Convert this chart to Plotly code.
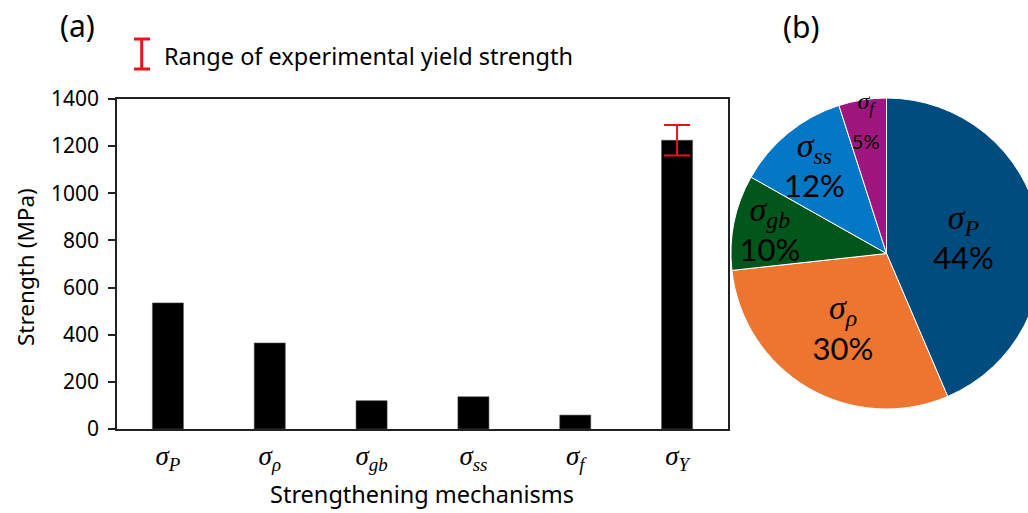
import plotly.graph_objects as go

# Strengthening contributions (MPa)
mechanisms = ["P", "ρ", "gb", "ss", "f", "Y"]
strength_mpa = [535, 365, 120, 137, 59, 1225]

# Experimental yield strength range (MPa) around the total σ_Y
yield_low = 1160
yield_high = 1290

# Share of each mechanism in the total (%)
pie_mechanisms = ["P", "ρ", "gb", "ss", "f"]
pie_share = [44, 30, 10, 12, 5]
pie_colors = ["#014C7E", "#ED7530", "#01561B", "#0478C6", "#A0167F"]
small_label = ["f"]

y_ticks = [0, 200, 400, 600, 800, 1000, 1200, 1400]

W, H = 1042, 513
SANS = "Noto Sans"
SERIF = "Liberation Serif"
AXIS = "#222222"


def px_x(p):
    return p / W


def px_y(p):
    return 1 - p / H


def sigma(sub):
    return f"<i>σ<sub>{sub}</sub></i>"


cats = [sigma(m) for m in mechanisms]

fig = go.Figure()

fig.add_trace(go.Bar(
    x=cats, y=strength_mpa,
    marker=dict(color="black", line=dict(color="#555555", width=0.6)),
    xaxis="x", yaxis="y", showlegend=False, hoverinfo="x+y",
))

# range of the measured yield strength on the σ_Y bar
y_idx = mechanisms.index("Y")
y_val = strength_mpa[y_idx]
fig.add_trace(go.Scatter(
    x=[cats[y_idx]], y=[y_val], mode="markers",
    marker=dict(size=1, opacity=0),
    error_y=dict(type="data", symmetric=False,
                 array=[yield_high - y_val], arrayminus=[y_val - yield_low],
                 color="#E8141B", thickness=2, width=13),
    xaxis="x", yaxis="y", showlegend=False, hoverinfo="skip",
))


def pie_text(m, v):
    if m in small_label:
        return (f"<span style='font-family:{SERIF};font-size:24px'>{sigma(m)}</span><br>"
                f"<span style='font-size:20px'>{v}%</span>")
    return f"<span style='font-family:{SERIF};font-size:34px'>{sigma(m)}</span><br>{v}%"


fig.add_trace(go.Pie(
    labels=[sigma(m) for m in pie_mechanisms],
    values=pie_share,
    text=[pie_text(m, v) for m, v in zip(pie_mechanisms, pie_share)],
    texttemplate="%{text}",
    textposition="inside",
    insidetextorientation="horizontal",
    textfont=dict(family="Lato", size=31, color="black"),
    marker=dict(colors=pie_colors, line=dict(color="white", width=1)),
    sort=False, direction="clockwise", rotation=0,
    domain=dict(x=[px_x(731), 1.0], y=[px_y(409), px_y(98)]),
    showlegend=False, hoverinfo="label+value",
))

fig.update_layout(
    width=W, height=H,
    margin=dict(l=0, r=0, t=0, b=0, autoexpand=False),
    uniformtext=dict(mode="show", minsize=31),
    paper_bgcolor="white", plot_bgcolor="white",
    font=dict(family=SANS, color="black", size=20),
    bargap=0.695,
    xaxis=dict(
        domain=[px_x(117), px_x(728)], automargin=False,
        showline=True, mirror=True, linecolor=AXIS, linewidth=1.5,
        ticks="", showgrid=False, zeroline=False,
        tickfont=dict(family=SERIF, size=27, color="black"),
        ticklabelstandoff=2,
    ),
    yaxis=dict(
        domain=[px_y(429), px_y(99)], automargin=False,
        range=[0, 1400], tickvals=y_ticks,
        showline=True, mirror=True, linecolor=AXIS, linewidth=1.5,
        ticks="outside", ticklen=7, tickwidth=1.5, tickcolor=AXIS,
        showgrid=False, zeroline=False,
        tickfont=dict(family=SANS, size=21, color="black"),
        ticklabelstandoff=5,
    ),
    shapes=[
        # red I-beam legend glyph
        dict(type="line", xref="paper", yref="paper",
             x0=px_x(141.7), x1=px_x(141.7), y0=px_y(39), y1=px_y(69),
             line=dict(color="#E8141B", width=3)),
        dict(type="line", xref="paper", yref="paper",
             x0=px_x(134), x1=px_x(150), y0=px_y(39), y1=px_y(39),
             line=dict(color="#E8141B", width=3)),
        dict(type="line", xref="paper", yref="paper",
             x0=px_x(134), x1=px_x(150), y0=px_y(69), y1=px_y(69),
             line=dict(color="#E8141B", width=3)),
    ],
    annotations=[
        dict(text="Range of experimental yield strength", xref="paper", yref="paper",
             x=px_x(162), y=px_y(56), xanchor="left", yanchor="middle",
             showarrow=False, font=dict(size=23.5)),
        dict(text="Strength (MPa)", xref="paper", yref="paper",
             x=px_x(25), y=px_y(267), xanchor="center", yanchor="middle",
             textangle=-90, showarrow=False, font=dict(size=22.5)),
        dict(text="Strengthening mechanisms", xref="paper", yref="paper",
             x=px_x(422), y=px_y(494), xanchor="center", yanchor="middle",
             showarrow=False, font=dict(size=23.5)),
        dict(text="(a)", xref="paper", yref="paper",
             x=px_x(77), y=px_y(25), xanchor="center", yanchor="middle",
             showarrow=False, font=dict(size=30)),
        dict(text="(b)", xref="paper", yref="paper",
             x=px_x(801), y=px_y(27), xanchor="center", yanchor="middle",
             showarrow=False, font=dict(size=30)),
    ],
)

fig.write_html(
    "out.html",
    config={"displayModeBar": False},
    post_script="document.documentElement.style.overflow='hidden';document.body.style.overflow='hidden';",
)
